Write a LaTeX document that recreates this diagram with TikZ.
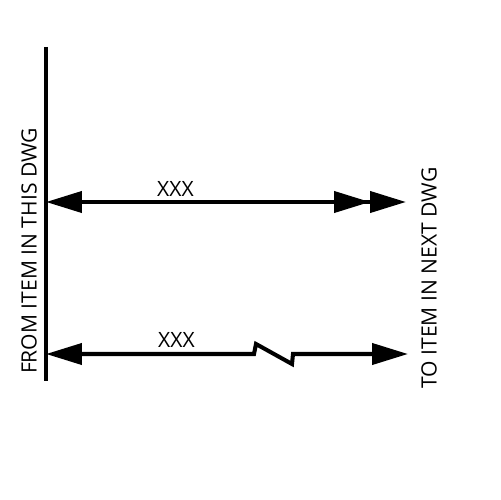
\documentclass[tikz,border=0pt]{standalone}
\usepackage{fontspec}
\setmainfont{Open Sans}
\usetikzlibrary{arrows.meta,positioning}

\tikzset{
    wire/.style={line width=2.3pt},
    dwghead/.tip={Triangle[length=0.72cm,width=0.42cm,sep=0pt]},
    lbl/.style={inner sep=0pt, font=\fontsize{12}{14}\selectfont}
}

\begin{document}
\begin{tikzpicture}[x=0.02cm, y=-0.02cm]
    \useasboundingbox (0, 0) rectangle (500, 500);

    % left boundary
    \coordinate (bartop) at (46, 47);
    \coordinate (barbot) at (46, 381);
    \draw[wire] (bartop) -- (barbot);

    % end points
    \coordinate (upfrom) at (46, 202);
    \coordinate (upto) at (406, 202);
    \coordinate (lofrom) at (46, 354);
    \coordinate (loto) at (408, 354);
    \coordinate (zagA) at (254, 354);
    \coordinate (zagB) at (256, 344);
    \coordinate (zagC) at (292, 364);
    \coordinate (zagD) at (293, 354);

    \draw[wire, {dwghead[]}-{dwghead[]dwghead[]}] (upfrom) -- (upto);
    \draw[wire, {dwghead[]}-{dwghead[]}] (lofrom) -- (zagA) -- (zagB) -- (zagC) -- (zagD) -- (loto);

    \node[lbl] (uplabel) at (175.5, 188.5) {XXX};
    \node[lbl] (lolabel) at (176.5, 340) {XXX};
    \node[lbl, rotate=90] (fromtext) at (29, 251) {FROM ITEM IN THIS DWG};
    \node[lbl, rotate=90] (totext) at (429, 278) {TO ITEM IN NEXT DWG};
\end{tikzpicture}
\end{document}
